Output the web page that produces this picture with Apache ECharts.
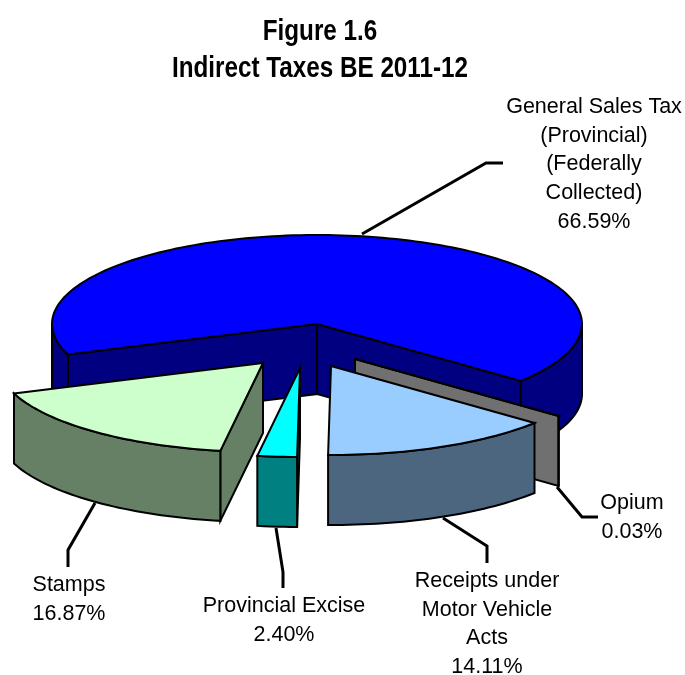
<!DOCTYPE html>
<html>
<head>
<meta charset="utf-8">
<style>html,body{margin:0;padding:0;background:#fff}#c{width:685px;height:675px}</style>
<script src="https://cdn.jsdelivr.net/npm/echarts@6/dist/echarts.min.js"></script>
</head>
<body>
<div id="c"></div>
<script>
// Data, clockwise round the pie
const categories = ['General Sales Tax\n(Provincial)\n(Federally\nCollected)', 'Opium', 'Receipts under\nMotor Vehicle\nActs', 'Provincial Excise', 'Stamps'];
const shares = [66.59, 0.03, 14.11, 2.40, 16.87];
const valueLabels = ['66.59%', '0.03%', '14.11%', '2.40%', '16.87%'];
const titleLines = 'Figure 1.6\nIndirect Taxes BE 2011-12';

// Styles and layout
const topColors = ['#0000FF', '#808080', '#99CCFF', '#00FFFF', '#CCFFCC'];
const wallColors = ['#000080', '#707070', '#4D6680', '#008080', '#668066'];
const explode = [[0, 0], [38, 35], [14, 42], [-17, 44], [-54, 39]];
const labelPos = [[594, 93], [632, 489], [487, 567], [284, 592], [69, 571]];
const leaders = [
  [[362, 234], [486, 163], [503, 163]],
  [[557, 487], [582, 517], [598, 517]],
  [[443, 518], [487, 546], [487, 563]],
  [[276, 528], [283, 572], [283, 588]],
  [[95, 503], [68, 550], [68, 567]]
];
const pie = { cx: 317, cy: 324, rx: 265, ry: 89, depth: 70, startDeg: 160 };

const total = shares.reduce((a, b) => a + b, 0);
const rad = d => d * Math.PI / 180;

function renderSlice(params, api) {
  const i = params.dataIndex;
  let before = 0;
  for (let k = 0; k < i; k++) before += shares[k];
  const a0 = pie.startDeg + before / total * 360;
  const a1 = a0 + api.value(0) / total * 360;
  const ox = pie.cx + explode[i][0], oy = pie.cy + explode[i][1];
  const rim = d => [ox + pie.rx * Math.cos(rad(d)), oy + pie.ry * Math.sin(rad(d))];
  const arc = (s, e) => {
    const n = Math.max(2, Math.ceil((e - s) / 1.5));
    const out = [];
    for (let k = 0; k <= n; k++) out.push(rim(s + (e - s) * k / n));
    return out;
  };
  const drop = p => [p[0], p[1] + pie.depth];
  const stroke = { stroke: '#000', lineWidth: 2, lineJoin: 'miter' };
  const poly = (pts, fill) => ({ type: 'polygon', shape: { points: pts }, style: Object.assign({ fill: fill }, stroke) });
  const wall = edge => poly(edge.concat(edge.slice().reverse().map(drop)), wallColors[i]);
  const apex = [ox, oy];
  const children = [];
  // radial walls, shown only where they face the viewer
  if (Math.cos(rad(a0)) < 0) children.push(wall([apex, rim(a0)]));
  if (Math.cos(rad(a1)) > 0) children.push(wall([apex, rim(a1)]));
  // outer wall: the front half of the rim
  [0, 360].forEach(base => {
    const s = Math.max(a0, base), e = Math.min(a1, base + 180);
    if (e > s) children.push(wall(arc(s, e)));
  });
  children.push(poly([apex].concat(arc(a0, a1)), topColors[i]));
  // leader line
  children.push({ type: 'polyline', shape: { points: leaders[i] },
    style: { fill: null, stroke: '#000', lineWidth: 3, lineJoin: 'miter' } });
  // label
  children.push({ type: 'text', x: labelPos[i][0], y: labelPos[i][1],
    style: { text: categories[i] + '\n' + valueLabels[i], fill: '#000', align: 'center', verticalAlign: 'top',
      font: '21.5px "Liberation Sans", Arial, sans-serif', lineHeight: 28.6 } });
  return { type: 'group', children: children };
}

const chart = echarts.init(document.getElementById('c'), null, { renderer: 'canvas' });
chart.setOption({
  animation: false,
  backgroundColor: '#fff',
  graphic: [{
    type: 'text', x: 320, y: 13, scaleX: 0.836, originX: 0, originY: 0,
    style: { text: titleLines, fill: '#000', align: 'center', verticalAlign: 'top',
      font: 'bold 29px "Liberation Sans", Arial, sans-serif', lineHeight: 37 }
  }],
  series: [{
    type: 'custom',
    coordinateSystem: 'none',
    silent: true,
    renderItem: renderSlice,
    data: shares.map((v, i) => ({ name: categories[i], value: [v] }))
  }]
});
</script>
</body>
</html>
